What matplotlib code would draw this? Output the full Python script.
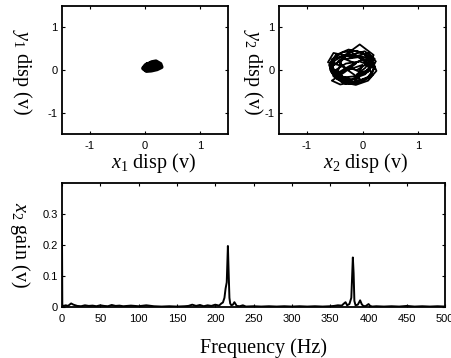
import matplotlib
matplotlib.use("Agg")
import matplotlib.pyplot as plt

plt.rcParams['font.family'] = 'Liberation Sans'
plt.rcParams['axes.unicode_minus'] = False
plt.rcParams['mathtext.fontset'] = 'custom'
plt.rcParams['mathtext.rm'] = 'Liberation Serif'
plt.rcParams['mathtext.it'] = 'Liberation Serif:italic'

# phase plot 1: small blob near origin
x1 = [0.00, 0.05, 0.12, 0.20, 0.28, 0.30, 0.22, 0.12, 0.03, -0.03, 0.02, 0.10, 0.18,
      0.25, 0.20, 0.10, 0.02, 0.05, 0.15, 0.24, 0.16, 0.06, 0.00, 0.08, 0.18, 0.12, 0.04]
y1 = [0.02, 0.10, 0.18, 0.20, 0.14, 0.07, 0.02, -0.01, -0.02, 0.04, 0.12, 0.16, 0.15,
      0.10, 0.04, 0.00, 0.06, 0.14, 0.12, 0.06, 0.03, 0.02, 0.08, 0.13, 0.09, 0.04, 0.05]

# phase plot 2: tangled loops
x2 = [-0.20, -0.45, -0.58, -0.55, -0.35, -0.10, 0.12, 0.22, 0.15, -0.05, -0.30, -0.52,
      -0.60, -0.48, -0.25, 0.00, 0.18, 0.25, 0.10, -0.12, -0.38, -0.56, -0.50, -0.28,
      -0.05, 0.20, 0.05, -0.10, 0.10, 0.22, 0.05, -0.25, -0.50, -0.58, -0.42, -0.15,
      0.08, 0.20, 0.12, -0.08, -0.35, -0.55, -0.45, -0.20, 0.05, 0.15, -0.05, -0.30,
      -0.48, -0.40, -0.15, 0.10, 0.18, 0.00, -0.25, -0.42, -0.30, -0.05,
      -0.38, -0.62, -0.52, -0.18, 0.10, 0.24, 0.02, -0.22, -0.46, -0.36, -0.12, -0.32,
      -0.55, -0.40, -0.08, 0.18, 0.06, -0.20, -0.44, -0.26, 0.00, -0.15, -0.40, -0.58,
      -0.30, 0.04, 0.22, -0.10]
y2 = [-0.30, -0.22, 0.00, 0.25, 0.42, 0.45, 0.32, 0.08, -0.15, -0.30, -0.33, -0.15,
      0.12, 0.35, 0.48, 0.40, 0.20, -0.02, -0.25, -0.35, -0.28, -0.05, 0.22, 0.38,
      0.60, 0.35, 0.05, -0.10, 0.00, 0.15, 0.30, 0.35, 0.28, 0.05, -0.20, -0.28,
      -0.20, 0.02, 0.22, 0.30, 0.25, 0.10, -0.12, -0.22, -0.10, 0.10, 0.20, 0.15,
      0.00, -0.18, -0.15, -0.05, 0.12, 0.25, 0.08, -0.05, -0.25, -0.20,
      0.10, 0.18, 0.40, 0.30, 0.40, 0.20, -0.08, 0.05, -0.10, 0.28, 0.15, -0.05,
      -0.25, -0.34, -0.26, -0.12, 0.18, 0.42, 0.20, 0.00, 0.12, -0.32, -0.12, 0.05,
      0.32, 0.44, 0.26, 0.00]

# spectrum of x2
freq = [0, 0.5, 2, 5, 8, 12, 15, 20, 25, 30, 35, 40, 45, 50, 55, 60, 65, 70, 75, 80,
        90, 100, 110, 120, 130, 140, 150, 160, 165, 170, 175, 180, 185, 190, 195, 200,
        205, 208, 210, 212, 213.5, 215, 216.5, 217.5, 218.5, 219.5, 221, 223, 225, 228,
        232, 236, 240, 250, 260, 270, 280, 290, 300, 310, 320, 330, 340, 350, 355, 360,
        365, 368, 370, 372, 375, 377.5, 379.5, 380.5, 381.5, 383, 386, 389, 391, 393,
        396, 400, 402, 405, 410, 420, 430, 440, 450, 460, 470, 480, 490, 500]
gain = [0.28, 0.005, 0.004, 0.006, 0.004, 0.012, 0.008, 0.004, 0.003, 0.006, 0.004,
        0.005, 0.003, 0.006, 0.004, 0.003, 0.007, 0.004, 0.005, 0.003, 0.005, 0.003,
        0.006, 0.003, 0.002, 0.003, 0.002, 0.003, 0.004, 0.008, 0.004, 0.007, 0.003,
        0.006, 0.004, 0.008, 0.005, 0.012, 0.015, 0.03, 0.06, 0.08, 0.197, 0.11, 0.03,
        0.012, 0.006, 0.008, 0.016, 0.004, 0.003, 0.006, 0.002, 0.003, 0.002, 0.003,
        0.002, 0.003, 0.002, 0.003, 0.002, 0.003, 0.002, 0.003, 0.004, 0.006, 0.005,
        0.012, 0.016, 0.006, 0.01, 0.03, 0.16, 0.11, 0.02, 0.006, 0.008, 0.022, 0.01,
        0.004, 0.003, 0.01, 0.004, 0.002, 0.003, 0.002, 0.003, 0.002, 0.004, 0.002,
        0.003, 0.002, 0.003, 0.002]

fig = plt.figure(figsize=(4.52, 3.58), dpi=100)
ax1 = fig.add_axes([0.137, 0.626, 0.367, 0.357])
ax2 = fig.add_axes([0.617, 0.626, 0.370, 0.357])
ax3 = fig.add_axes([0.137, 0.142, 0.848, 0.347])

lab = dict(family='Liberation Serif', fontsize=14.5)

for ax in (ax1, ax2):
    ax.set_xlim(-1.5, 1.5)
    ax.set_ylim(-1.5, 1.5)
    ax.set_xticks([-1, 0, 1])
    ax.set_yticks([-1, 0, 1])

ax1.plot(x1, y1, color='black', lw=3)
ax2.plot(x2, y2, color='black', lw=1.3)
ax3.plot(freq, gain, color='black', lw=1.4)

ax3.set_xlim(0, 500)
ax3.set_ylim(0, 0.4)
ax3.set_xticks(range(0, 501, 50))
ax3.set_yticks([0, 0.1, 0.2, 0.3])
ax3.set_yticklabels(['0', '0.1', '0.2', '0.3'])

for ax in (ax1, ax2, ax3):
    ax.tick_params(direction='in', length=2.5, width=0.8, top=True, right=True,
                   labelsize=8, colors='black')
    ax.tick_params(axis='x', pad=5)
    ax.tick_params(axis='y', pad=3)
    for s in ax.spines.values():
        s.set_linewidth(1.3)

ax1.set_xlabel(r'$x_1$ disp (v)', va='center', **lab)
ax1.set_ylabel(r'$y_1$ disp (v)', rotation=270, va='center', **lab)
ax1.xaxis.set_label_coords(0.55, -0.23)
ax1.yaxis.set_label_coords(-0.24, 0.48)

ax2.set_xlabel(r'$x_2$ disp (v)', va='center', **lab)
ax2.set_ylabel(r'$y_2$ disp (v)', rotation=270, va='center', **lab)
ax2.xaxis.set_label_coords(0.52, -0.23)
ax2.yaxis.set_label_coords(-0.156, 0.48)

ax3.set_xlabel('Frequency (Hz)', va='center', **lab)
ax3.set_ylabel(r'$x_2$ gain (v)', rotation=270, va='center', **lab)
ax3.xaxis.set_label_coords(0.525, -0.33)
ax3.yaxis.set_label_coords(-0.11, 0.5)

fig.savefig('out.png', dpi=100)
